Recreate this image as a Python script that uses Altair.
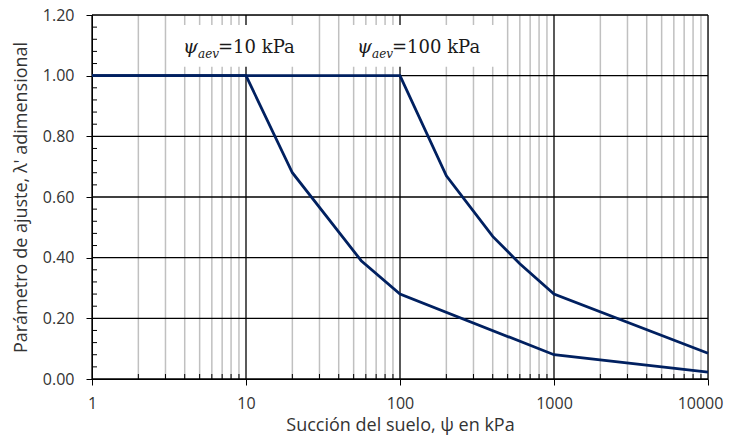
import altair as alt
import pandas as pd

# ---- data ----
suction_a = [1, 10, 20, 56, 100, 1000, 10000]
lambda_a = [1.00, 1.00, 0.68, 0.39, 0.28, 0.08, 0.023]
suction_b = [1, 100, 200, 400, 600, 1000, 10000]
lambda_b = [1.00, 1.00, 0.67, 0.47, 0.38, 0.28, 0.085]

x_major = [1, 10, 100, 1000, 10000]
x_minor = [2, 3, 4, 5, 6, 7, 8, 9,
           20, 30, 40, 50, 60, 70, 80, 90,
           200, 300, 400, 500, 600, 700, 800, 900,
           2000, 3000, 4000, 5000, 6000, 7000, 8000, 9000]
y_major = [0.0, 0.2, 0.4, 0.6, 0.8, 1.0, 1.2]
y_minor = [0.04, 0.08, 0.12, 0.16, 0.24, 0.28, 0.32, 0.36,
           0.44, 0.48, 0.52, 0.56, 0.64, 0.68, 0.72, 0.76,
           0.84, 0.88, 0.92, 0.96, 1.04, 1.08, 1.12, 1.16]

ann_rest = ["=10 kPa", "=100 kPa"]
ann_start = [3.9, 52.6]
ann_box_left = [3.5, 46.6]
ann_box_right = [24.2, 414]
ann_baseline = [1.074, 1.074]
ann_box_bottom = [1.029, 1.029]
ann_box_top = [1.167, 1.167]

W, H = 616, 364
LINE_COLOR = "#002060"
TXT = "#333333"
SANS = "Open Sans"
SERIF = "DejaVu Serif"

lines_df = pd.DataFrame({
    "x": suction_a + suction_b,
    "y": lambda_a + lambda_b,
    "series": ["a"] * len(suction_a) + ["b"] * len(suction_b),
})
xmaj_df = pd.DataFrame({"x": x_major})
xmin_df = pd.DataFrame({"x": x_minor})
ymaj_df = pd.DataFrame({"y": y_major})
ymin_df = pd.DataFrame({"y": y_minor})
ann_df = pd.DataFrame({
    "x": ann_start, "y": ann_baseline,
    "bx": ann_box_left, "bx2": ann_box_right,
    "by": ann_box_bottom, "by2": ann_box_top,
    "psi": ["ψ", "ψ"], "sub": ["aev", "aev"], "rest": ann_rest,
})

xs = alt.Scale(type="log", domain=[1, 10000])
ys = alt.Scale(domain=[0, 1.2])

x_axis = alt.Axis(
    values=x_major, format="d", grid=False,
    title="Succión del suelo, ψ en kPa",
    tickSize=6, tickColor="black", domainColor="black", domainWidth=1,
    labelFont=SANS, labelFontSize=16, labelColor=TXT, labelPadding=10,
    labelFlush=False, labelOverlap=False, labelBound=False,
    labelOffset={"condition": {"test": "datum.value == 10000", "value": -8}, "value": 0},
    titleFont=SANS, titleFontSize=18, titleFontWeight="normal", titleColor=TXT,
    titleX=W / 2, titleY=51, titleBaseline="alphabetic", titleAlign="center",
)
y_axis = alt.Axis(
    values=y_major, format=".2f", grid=False,
    title="Parámetro de ajuste, λ' adimensional",
    tickSize=6, tickColor="black", domainColor="black", domainWidth=1,
    labelFont=SANS, labelFontSize=16, labelColor=TXT, labelPadding=12,
    titleFont=SANS, titleFontSize=18, titleFontWeight="normal", titleColor=TXT,
    titleX=-66, titleY=H / 2, titleBaseline="alphabetic", titleAlign="center", titleAngle=270,
)

X = lambda f: alt.X(f, scale=xs, axis=x_axis)
Y = lambda f: alt.Y(f, scale=ys, axis=y_axis)

minor_v = alt.Chart(xmin_df).mark_rule(color="#c0c0c0", strokeWidth=1.5).encode(x=X("x:Q"))
major_v = alt.Chart(xmaj_df).mark_rule(color="black", strokeWidth=1.3).encode(x=X("x:Q"))
major_h = alt.Chart(ymaj_df).mark_rule(color="black", strokeWidth=1.3).encode(y=Y("y:Q"))
minor_tx = alt.Chart(xmin_df).mark_rule(color="black", strokeWidth=1).encode(
    x=X("x:Q"), y=alt.value(H - 5), y2=alt.value(H))
minor_ty = alt.Chart(ymin_df).mark_rule(color="black", strokeWidth=1).encode(
    y=Y("y:Q"), x=alt.value(0), x2=alt.value(5))
boxes = alt.Chart(ann_df).mark_rect(color="white").encode(
    x=X("bx:Q"), x2="bx2", y=Y("by:Q"), y2="by2")
curves = alt.Chart(lines_df).mark_line(color=LINE_COLOR, strokeWidth=2.8).encode(
    x=X("x:Q"), y=Y("y:Q"), detail="series:N")
t_psi = alt.Chart(ann_df).mark_text(
    align="left", baseline="alphabetic", font=SERIF, fontStyle="italic",
    fontSize=19, color="#1a1a1a").encode(x=X("x:Q"), y=Y("y:Q"), text="psi:N")
t_sub = alt.Chart(ann_df).mark_text(
    align="left", baseline="alphabetic", font=SERIF, fontStyle="italic",
    fontSize=12, dx=15, dy=5, color="#1a1a1a").encode(x=X("x:Q"), y=Y("y:Q"), text="sub:N")
t_rest = alt.Chart(ann_df).mark_text(
    align="left", baseline="alphabetic", font=SERIF,
    fontSize=18, dx=35, color="#1a1a1a").encode(x=X("x:Q"), y=Y("y:Q"), text="rest:N")

chart = alt.layer(
    minor_v, major_v, major_h, minor_tx, minor_ty, boxes, curves, t_psi, t_sub, t_rest
).properties(
    width=W, height=H,
    autosize=alt.AutoSizeParams(type="none"),
    padding={"left": 84, "top": 7, "right": 16, "bottom": 56},
).configure_view(strokeWidth=0).configure(background="white")

chart.save("out.html", embed_options={"renderer": "svg", "actions": False})
